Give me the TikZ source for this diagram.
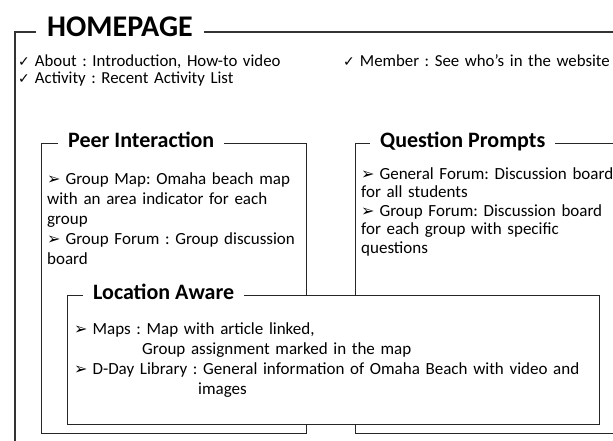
\documentclass[tikz,border=0pt]{standalone}
\usepackage{fontspec}
\setmainfont{Carlito}
\newfontfamily\symfont{DejaVu Sans}
\newcommand{\tickmark}{{\symfont\fontsize{14}{14}\selectfont ✓}\hspace{5pt}}
\newcommand{\arrowbullet}{{\symfont\fontsize{16}{16}\selectfont ➢}\hspace{5pt}}
\frenchspacing
\tikzset{
  outerframe/.style={draw=black!80, line width=2pt, inner sep=0pt},
  frame/.style={draw=black!85, line width=1.3pt, inner sep=0pt},
  boxtitle/.style={fill=white, inner xsep=10pt, inner ysep=2pt, anchor=base west,
    font=\fontsize{22}{24}\selectfont\bfseries},
  itemtext/.style={anchor=base west, inner sep=0pt, align=left,
    font=\fontsize{17}{20}\selectfont}
}
\begin{document}
\begin{tikzpicture}[x=1pt,y=-1pt]
\useasboundingbox (0,0) rectangle (613,441);
% homepage frame
\node[outerframe, anchor=north west, minimum width=700pt, minimum height=480pt] (home) at (14,31) {};
\node[boxtitle, inner xsep=11pt, font=\fontsize{30}{32}\selectfont\bfseries] (hometitle) at (36,37) {HOMEPAGE};
\node[itemtext, text width=300pt, font=\fontsize{16.8}{17}\selectfont] (homeitems) at (18,67)
  {\tickmark About : Introduction, How-to video\\
   \tickmark Activity : Recent Activity List};
\node[itemtext, text width=300pt, font=\fontsize{16.8}{17}\selectfont] (member) at (343,67)
  {\tickmark Member : See who’s in the website};
% peer interaction
\node[frame, anchor=north west, minimum width=265pt, minimum height=290pt] (peer) at (41,143) {};
\node[boxtitle] (peertitle) at (58,148) {Peer Interaction};
\node[itemtext, text width=255pt] (peeritems) at (47,184)
  {\arrowbullet Group Map: Omaha beach map\\
   with an area indicator for each\\
   group\\
   \arrowbullet Group Forum : Group discussion\\
   board};
% question prompts
\node[frame, anchor=north west, minimum width=345pt, minimum height=290pt] (question) at (355,143) {};
\node[boxtitle] (questiontitle) at (370,148) {Question Prompts};
\node[itemtext, text width=270pt, font=\fontsize{17}{18.5}\selectfont] (questionitems) at (361,179)
  {\arrowbullet General Forum: Discussion board\\
   for all students\\
   \arrowbullet Group Forum: Discussion board\\
   for each group with specific\\
   questions};
% location aware (on top)
\node[frame, fill=white, anchor=north west, minimum width=532pt, minimum height=129pt] (location) at (67,295) {};
\node[boxtitle] (locationtitle) at (83,299) {Location Aware};
\node[itemtext, text width=520pt, font=\fontsize{17}{20.3}\selectfont] (locationitems) at (74,334)
  {\arrowbullet Maps : Map with article linked,\\
   \hspace*{68pt}Group assignment marked in the map\\
   \arrowbullet D-Day Library : General information of Omaha Beach with video and\\
   \hspace*{124pt}images};
\end{tikzpicture}
\end{document}
